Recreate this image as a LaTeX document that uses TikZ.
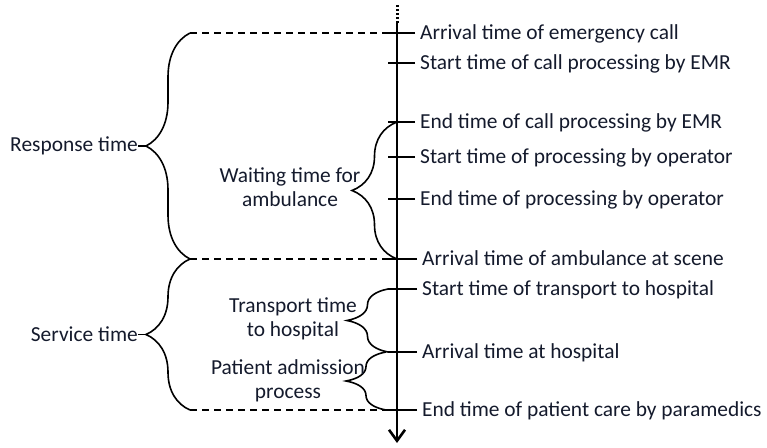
\documentclass[tikz,border=0pt]{standalone}
\usepackage{fontspec}
\setmainfont{Carlito}
\usetikzlibrary{arrows.meta,decorations.pathreplacing}

\definecolor{ink}{HTML}{141A2C}

\begin{document}
\begin{tikzpicture}[x=1pt,y=-1pt,
        font=\fontsize{21.4}{24}\selectfont,
        event/.style={anchor=west,text=ink,inner xsep=5pt,inner ysep=0pt,text height=17pt,text depth=3.2pt},
        span/.style={align=center,text=ink,inner sep=0pt},
        total/.style={anchor=east,text=ink,inner sep=0pt},
        tickline/.style={line width=1.8pt},
        guide/.style={line width=1.8pt,dash pattern=on 7pt off 5pt},
        brc/.style={line width=1.6pt,decorate,decoration={brace,amplitude=#1}}]
    \useasboundingbox (0,0) rectangle (767,447);

    %% time axis
    \coordinate (top) at (397,5);
    \coordinate (start) at (397,23);
    \coordinate (bottom) at (397,443);
    \draw[line width=3pt,dash pattern=on 2pt off 2pt] (top) -- (start);
    \draw[line width=2.6pt,-{Straight Barb[length=11pt,width=16pt]}] (start) -- (bottom);

    %% events along the axis
    \node[event] (e1) at (415,33) {Arrival time of emergency call};
    \node[event] (e2) at (415,63) {Start time of call processing by EMR};
    \node[event] (e3) at (415,122) {End time of call processing by EMR};
    \node[event] (e4) at (415,157) {Start time of processing by operator};
    \node[event] (e5) at (415,199) {End time of processing by operator};
    \node[event] (e6) at (417,259) {Arrival time of ambulance at scene};
    \node[event] (e7) at (417,289) {Start time of transport to hospital};
    \node[event] (e8) at (417,352) {Arrival time at hospital};
    \node[event] (e9) at (417,410) {End time of patient care by paramedics};
    \draw[tickline] (e1.west) -- +(-27,0);
    \draw[tickline] (e2.west) -- +(-27,0);
    \draw[tickline] (e3.west) -- +(-27,0);
    \draw[tickline] (e4.west) -- +(-27,0);
    \draw[tickline] (e5.west) -- +(-27,0);
    \draw[tickline] (e6.west) -- +(-29,0);
    \draw[tickline] (e7.west) -- +(-29,0);
    \draw[tickline] (e8.west) -- +(-29,0);
    \draw[tickline] (e9.west) -- +(-29,0);

    %% response and service time
    \coordinate (r1) at (190,33);
    \coordinate (r2) at (190,259);
    \coordinate (s2) at (190,410);
    \draw[guide] (r1) -- (r1 -| top);
    \draw[guide] (r2) -- (r2 -| top);
    \draw[guide] (s2) -- (s2 -| top);
    \draw[brc=44] (r2) -- (r1);
    \draw[brc=44] (s2) -- (r2);
    \coordinate (rtip) at (146,146);
    \coordinate (stip) at (146,334.5);
    \node[total] (resp) at (138,146) {Response time};
    \node[total] (serv) at (138,334.5) {Service time};
    \draw[line width=1.6pt] (resp) -- (rtip);
    \draw[line width=1.6pt] (serv) -- (stip);

    %% waiting, transport and admission
    \draw[brc=45] (397,259) -- (397,122);
    \draw[brc=41] (388,352) -- (388,289);
    \draw[brc=40] (386,410) -- (386,352);
    \node[span] (wait) at (290,187) {Waiting time for\\ambulance};
    \node[span] (trans) at (293,319) {Transport time\\to hospital};
    \node[span] (admit) at (288,381) {Patient admission\\process};
\end{tikzpicture}
\end{document}
